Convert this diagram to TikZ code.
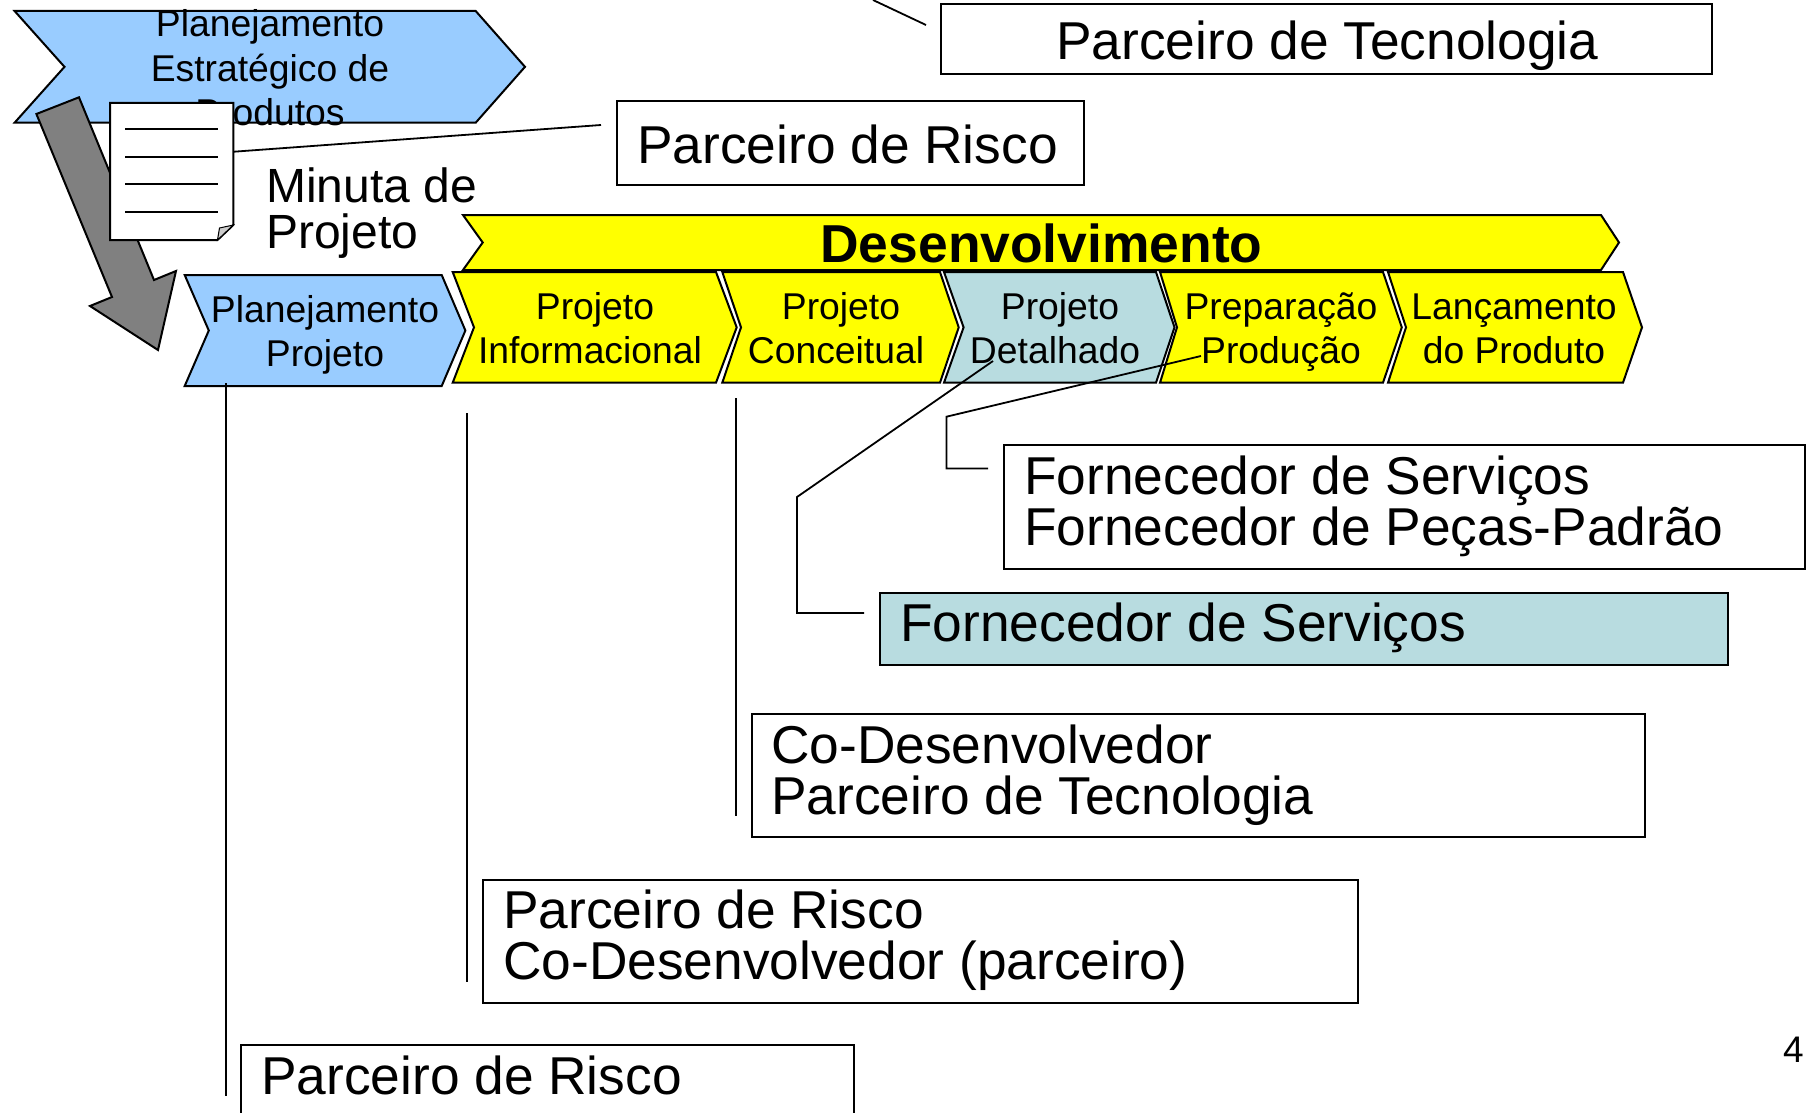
\documentclass[tikz,border=0pt]{standalone}
\usepackage{fontspec}
\setmainfont{Liberation Sans}
\usetikzlibrary{positioning}
\definecolor{Sky}{HTML}{99CCFF}
\definecolor{Teal}{HTML}{B8DCE0}
\definecolor{Lemon}{HTML}{FFFF00}
\definecolor{Slate}{HTML}{808080}
\tikzstyle{Phase} = [draw=black, line width=2pt, line join=miter, fill=Lemon]
\tikzstyle{Box} = [draw=black, line width=1.8pt, fill=white]
\tikzstyle{Lead} = [black, line width=1.8pt]
\tikzstyle{PhaseText} = [inner sep=0pt, align=center, anchor=base, font=\fontsize{37.3}{44}\selectfont]
\tikzstyle{BoxText} = [inner sep=0pt, align=left, anchor=base west, font=\fontsize{53.3}{51}\selectfont]
% left, notch, right, tip, top, bottom
\newcommand{\Chevron}[7][]{
    \draw[Phase, #1] (#2,#6) -- (#4,#6) -- (#5,{(#6+#7)/2}) -- (#4,#7) -- (#2,#7) -- (#3,{(#6+#7)/2}) -- cycle;
}
\newcommand{\Gap}{\hspace*{10pt}}
\begin{document}
\begin{tikzpicture}[x=1pt, y=-1pt]
    \useasboundingbox (0,0) rectangle (1808,1113);

    \Chevron[fill=Sky]{14.6}{64.5}{475.7}{525}{11}{122.7}
    \node[PhaseText] (estrategico) at (270,37) {Planejamento};
    \node[PhaseText] (estrategicoB) at (270,82) {Estratégico de};
    \node[PhaseText] (estrategicoC) at (270,126) {Produtos};

    % big arrow and document
    \draw[line width=2pt, fill=Slate] (36.4,114) -- (79,97.3) -- (154,280) -- (176,271) -- (158,350) -- (90,306) -- (112,297) -- cycle;
    \draw[line width=2pt, fill=white] (110,103) -- (233.3,103) -- (233.3,225) -- (217.5,240) -- (110,240) -- cycle;
    \draw[line width=1pt, fill=black!20] (233.3,225) -- (219.5,228) -- (217.5,240) -- cycle;
    \foreach \y in {128.7, 156.7, 184.3, 212} {
        \draw[Lead] (125,\y) -- (217.5,\y);
    }
    \node[inner sep=0pt, anchor=base west, font=\fontsize{48}{46}\selectfont] (minuta) at (266,202) {Minuta de};
    \node[inner sep=0pt, anchor=base west, font=\fontsize{48}{46}\selectfont] (minutaB) at (266,248) {Projeto};

    % phases
    \Chevron{463}{482.7}{1601}{1619}{215}{270}
    \node[inner sep=0pt, anchor=base, font=\fontsize{53.4}{52}\selectfont\bfseries] (desenvolvimento) at (1041.5,262) {Desenvolvimento};

    \Chevron[fill=Sky]{184.7}{208.8}{441.7}{465.4}{275}{386}
    \Chevron{452.7}{474}{716}{736.7}{272}{382.7}
    \Chevron{722.3}{741}{940}{958.7}{272}{382.7}
    \Chevron[fill=Teal]{944}{963.6}{1156}{1174.5}{272}{382.7}
    \Chevron{1160}{1177}{1383}{1401.8}{272}{382.7}
    \Chevron{1388}{1406}{1623}{1642}{272}{382.7}

    \node[PhaseText] (planejamento) at (325,366.5) {Planejamento\\Projeto};
    \node[PhaseText] (informacional) at (590,363) {\Gap Projeto\\Informacional};
    \node[PhaseText] (conceitual) at (836,363) {\Gap Projeto\\Conceitual};
    \node[PhaseText] (detalhado) at (1055,363) {\Gap Projeto\\Detalhado};
    \node[PhaseText] (producao) at (1281,363) {Preparação\\Produção};
    \node[PhaseText] (lancamento) at (1514,363) {Lançamento\\do Produto};

    % partner boxes
    \node[Box, anchor=north west, minimum width=771pt, minimum height=70pt] (tecnologiaBox) at (940,3) {};
    \node[BoxText] (tecnologia) at (1056,60) {Parceiro de Tecnologia};
    \node[Box, anchor=north west, minimum width=467pt, minimum height=84pt] (riscoBox) at (616,100) {};
    \node[BoxText] (risco) at (637,164) {Parceiro de Risco};
    \node[Box, anchor=north west, minimum width=801pt, minimum height=124pt] (fornecedorBox) at (1003,444) {};
    \node[BoxText] (fornecedor) at (1024,545) {Fornecedor de Serviços\\Fornecedor de Peças-Padrão};
    \node[Box, fill=Teal, anchor=north west, minimum width=848pt, minimum height=72pt] (servicosBox) at (879,592) {};
    \node[BoxText] (servicos) at (900,641) {Fornecedor de Serviços};
    \node[Box, anchor=north west, minimum width=893pt, minimum height=123pt] (codevBox) at (751,713) {};
    \node[BoxText] (codev) at (771,814) {Co-Desenvolvedor\\Parceiro de Tecnologia};
    \node[Box, anchor=north west, minimum width=875pt, minimum height=123pt] (parceiroBox) at (482,879) {};
    \node[BoxText] (parceiro) at (503,979) {Parceiro de Risco\\Co-Desenvolvedor (parceiro)};
    \node[Box, anchor=north west, minimum width=613pt, minimum height=90pt] (planoBox) at (240,1044) {};
    \node[BoxText] (plano) at (261,1094) {Parceiro de Risco};

    \node[inner sep=0pt, anchor=base east, font=\fontsize{37}{44}\selectfont] (pagina) at (1804,1062) {4};

    % leads
    \coordinate (topA) at (873,0);
    \coordinate (topB) at (926,25);
    \coordinate (docA) at (234,151.7);
    \coordinate (docB) at (601,125);
    \coordinate (planoA) at (226,383);
    \coordinate (planoB) at (226,1096);
    \coordinate (infoA) at (467,413);
    \coordinate (infoB) at (467,982);
    \coordinate (concA) at (735.6,398);
    \coordinate (concB) at (735.6,816);
    \coordinate (detA) at (993,361);
    \coordinate (detB) at (797,497);
    \coordinate (detC) at (797,613);
    \coordinate (detD) at (864,613);
    \coordinate (prodA) at (1201,356);
    \coordinate (prodB) at (946.5,416.7);
    \coordinate (prodC) at (946.5,468.5);
    \coordinate (prodD) at (988,468.5);
    \draw[Lead] (topA) -- (topB);
    \draw[Lead] (docA) -- (docB);
    \draw[Lead] (planoA) -- (planoB);
    \draw[Lead] (infoA) -- (infoB);
    \draw[Lead] (concA) -- (concB);
    \draw[Lead] (detA) -- (detB) -- (detC) -- (detD);
    \draw[Lead] (prodA) -- (prodB) -- (prodC) -- (prodD);
\end{tikzpicture}
\end{document}
